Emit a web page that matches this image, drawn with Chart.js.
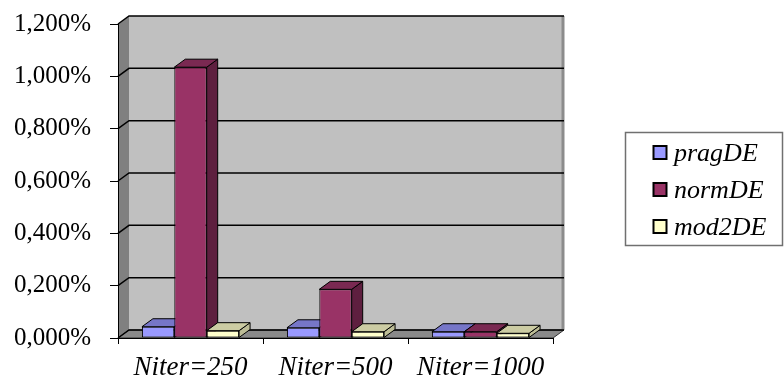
<!DOCTYPE html>
<html>
<head>
<meta charset="utf-8">
<script src="https://cdn.jsdelivr.net/npm/chart.js@4/dist/chart.umd.min.js"></script>
<style>
  html, body { margin: 0; padding: 0; background: #fff; }
  #wrap { width: 784px; height: 379px; position: relative; }
</style>
</head>
<body>
<div id="wrap"><canvas id="chart"></canvas></div>
<script>
// data (values in %)
const categories = ['Niter=250', 'Niter=500', 'Niter=1000'];
const seriesNames = ['pragDE', 'normDE', 'mod2DE'];
const pragDE = [0.043, 0.039, 0.024];
const normDE = [1.035, 0.186, 0.024];
const mod2DE = [0.028, 0.024, 0.018];
const yMin = 0;
const yMax = 1.2;
const yStep = 0.2;

// face colours: front, top, side
const faces = {
  pragDE: ['#9999FF', '#7676C8', '#6A6AB0'],
  normDE: ['#993366', '#7A2952', '#5E1F3F'],
  mod2DE: ['#FFFFCC', '#CCCCA3', '#BDBD96']
};

const FONT = "'Liberation Serif', 'Times New Roman', serif";
const DX = 11, DY = 8; // 3d depth offset

const box3d = {
  id: 'box3d',
  beforeDraw(chart) {
    const ctx = chart.ctx;
    const { left, right, top, bottom } = chart.chartArea;
    const y = chart.scales.y;
    ctx.save();
    ctx.fillStyle = '#fff';
    ctx.fillRect(0, 0, chart.width, chart.height);

    // back wall
    ctx.fillStyle = '#C0C0C0';
    ctx.fillRect(left + DX, top - DY, right - left, bottom - top);
    // left wall
    ctx.fillStyle = '#808080';
    ctx.beginPath();
    ctx.moveTo(left, top);
    ctx.lineTo(left + DX, top - DY);
    ctx.lineTo(left + DX, bottom - DY);
    ctx.lineTo(left, bottom);
    ctx.closePath();
    ctx.fill();
    // floor
    ctx.fillStyle = '#8A8A8A';
    ctx.beginPath();
    ctx.moveTo(left, bottom);
    ctx.lineTo(left + DX, bottom - DY);
    ctx.lineTo(right + DX, bottom - DY);
    ctx.lineTo(right, bottom);
    ctx.closePath();
    ctx.fill();
    ctx.strokeStyle = '#333';
    ctx.lineWidth = 1;
    ctx.stroke();

    // right edge of wall
    ctx.strokeStyle = '#8C8C8C';
    ctx.lineWidth = 3;
    ctx.beginPath();
    ctx.moveTo(right + DX - 1, top - DY);
    ctx.lineTo(right + DX - 1, bottom - DY);
    ctx.stroke();

    // gridlines on side + back wall
    ctx.strokeStyle = '#000';
    ctx.lineWidth = 1.5;
    y.ticks.forEach(t => {
      const py = y.getPixelForValue(t.value);
      ctx.beginPath();
      ctx.moveTo(left, py);
      ctx.lineTo(left + DX, py - DY);
      ctx.lineTo(right + DX, py - DY);
      ctx.stroke();
    });
    ctx.restore();
  },
  beforeDatasetsDraw(chart) {
    const ctx = chart.ctx;
    const bars = [];
    chart.data.datasets.forEach((ds, i) => {
      chart.getDatasetMeta(i).data.forEach(el => bars.push({ el, name: ds.label }));
    });
    bars.sort((a, b) => a.el.x - b.el.x);
    ctx.save();
    ctx.strokeStyle = '#000';
    ctx.lineWidth = 1;
    ctx.lineJoin = 'round';
    bars.forEach(({ el, name }) => {
      const x0 = el.x - el.width / 2, x1 = el.x + el.width / 2;
      const yt = el.y, yb = el.base;
      // side
      ctx.fillStyle = faces[name][2];
      ctx.beginPath();
      ctx.moveTo(x1, yt);
      ctx.lineTo(x1 + DX, yt - DY);
      ctx.lineTo(x1 + DX, yb - DY);
      ctx.lineTo(x1, yb);
      ctx.closePath();
      ctx.fill();
      ctx.stroke();
      // top
      ctx.fillStyle = faces[name][1];
      ctx.beginPath();
      ctx.moveTo(x0, yt);
      ctx.lineTo(x1, yt);
      ctx.lineTo(x1 + DX, yt - DY);
      ctx.lineTo(x0 + DX, yt - DY);
      ctx.closePath();
      ctx.fill();
      ctx.stroke();
    });
    ctx.restore();
  },
  afterDraw(chart) {
    // legend box
    const ctx = chart.ctx;
    ctx.save();
    ctx.fillStyle = '#fff';
    ctx.fillRect(625.5, 132.5, 157, 113);
    ctx.strokeStyle = '#707070';
    ctx.lineWidth = 1.5;
    ctx.strokeRect(625.5, 132.5, 157, 113);
    ctx.font = 'italic 26px ' + FONT;
    ctx.textBaseline = 'middle';
    ctx.textAlign = 'left';
    chart.data.datasets.forEach((ds, i) => {
      const cy = 153 + i * 37;
      ctx.fillStyle = ds.backgroundColor;
      ctx.fillRect(653.5, cy - 7, 13, 13);
      ctx.strokeStyle = '#000';
      ctx.lineWidth = 2;
      ctx.strokeRect(653.5, cy - 7, 13, 13);
      ctx.fillStyle = '#000';
      ctx.fillText(ds.label, 674, cy + 1);
    });
    ctx.restore();
  }
};

const seriesData = [pragDE, normDE, mod2DE];

new Chart(document.getElementById('chart'), {
  type: 'bar',
  data: {
    labels: categories,
    datasets: seriesNames.map((name, i) => ({
      label: name,
      data: seriesData[i],
      backgroundColor: faces[name][0],
      borderColor: '#000',
      borderWidth: 1,
      borderSkipped: false,
      barPercentage: 1,
      categoryPercentage: 0.67
    }))
  },
  options: {
    responsive: true,
    maintainAspectRatio: false,
    animation: false,
    layout: {
      padding: { top: 24, right: 231, bottom: 0, left: 0 }
    },
    plugins: {
      legend: { display: false },
      tooltip: { enabled: false }
    },
    scales: {
      x: {
        afterFit: (scale) => { scale.height = 41; },
        grid: {
          drawOnChartArea: false,
          offset: true,
          color: '#000',
          tickLength: 6
        },
        border: { color: '#000', width: 1 },
        ticks: {
          color: '#000',
          padding: 8,
          font: { family: FONT, size: 27, style: 'italic' }
        }
      },
      y: {
        min: yMin,
        max: yMax,
        afterFit: (scale) => {
          scale.width = 118;
          // tick padding is horizontal here, keep it out of the vertical overflow
          scale.paddingTop = 0;
          scale.paddingBottom = 0;
        },
        grid: {
          drawOnChartArea: false,
          color: '#000',
          tickLength: 8
        },
        border: { color: '#000', width: 1 },
        ticks: {
          stepSize: yStep,
          color: '#000',
          padding: 19,
          font: { family: FONT, size: 25 },
          callback: (value) => value.toFixed(3).replace('.', ',') + '%'
        }
      }
    }
  },
  plugins: [box3d]
});
</script>
</body>
</html>
